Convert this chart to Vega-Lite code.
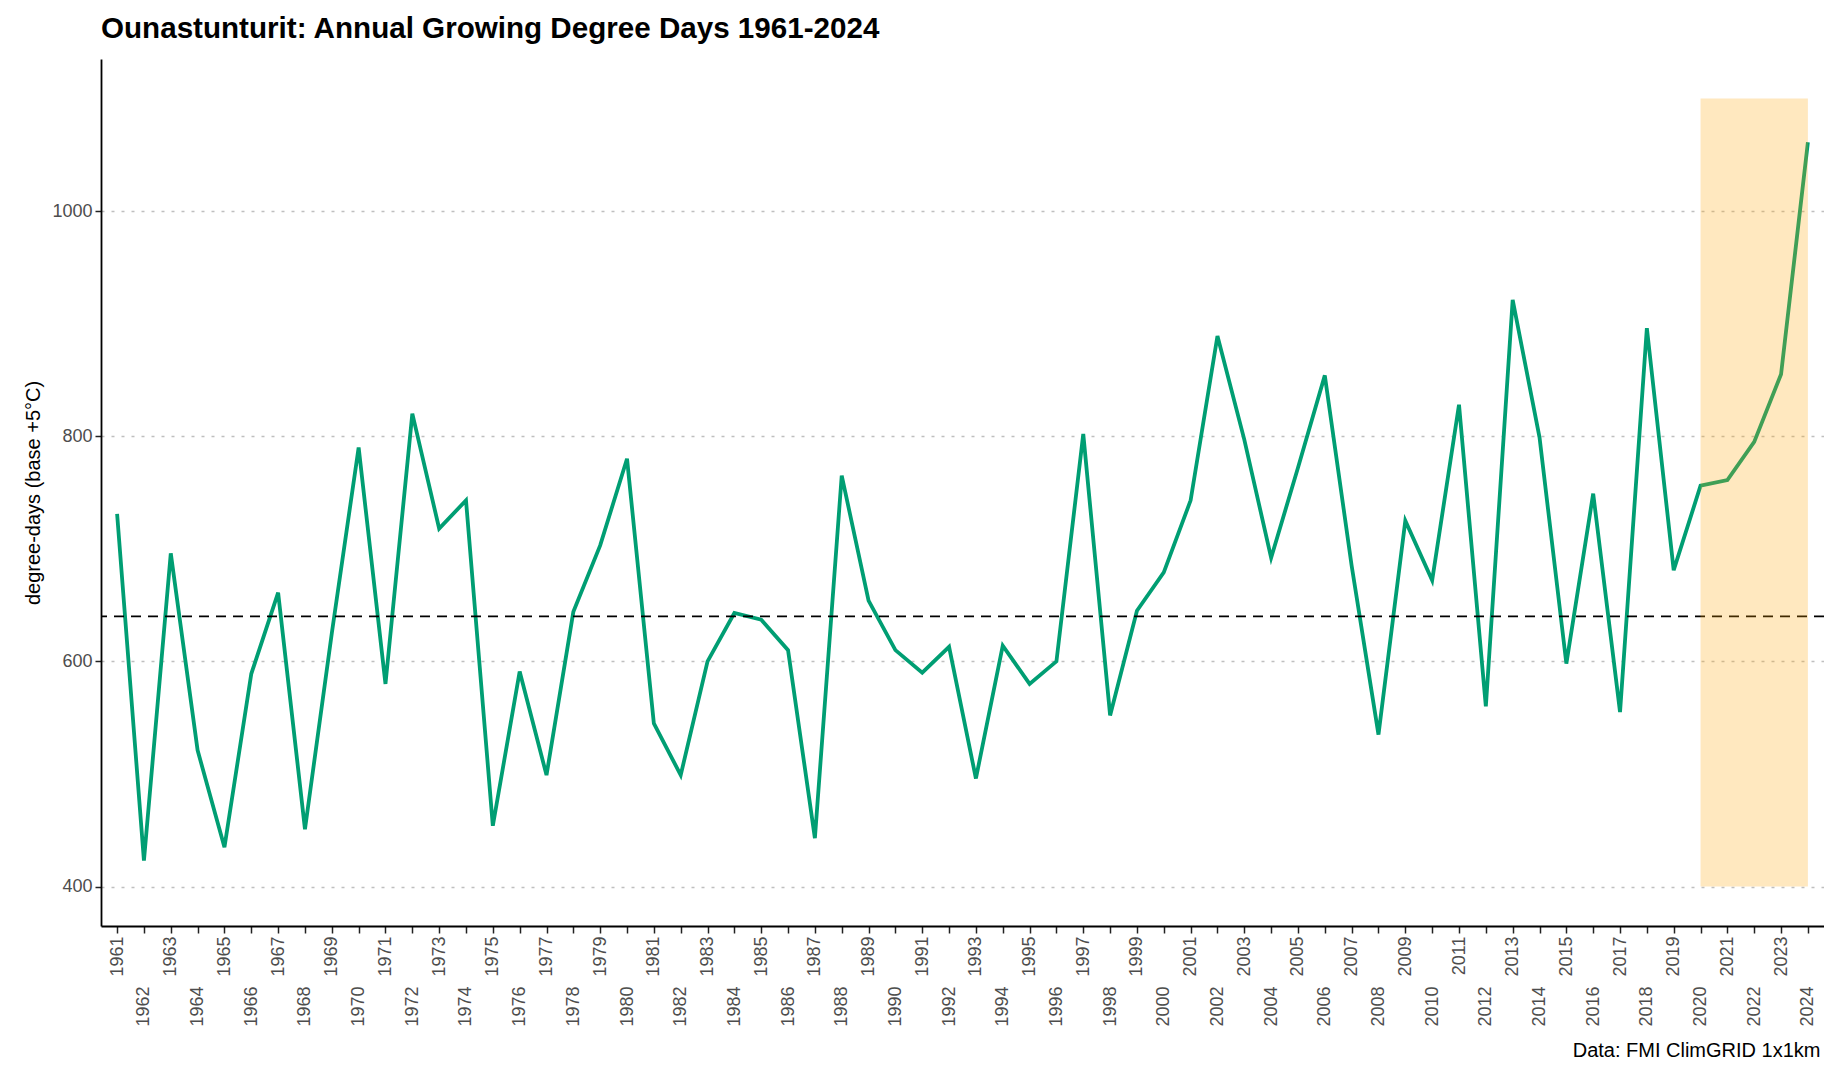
{
  "$schema": "https://vega.github.io/schema/vega-lite/v6.json",
  "width": 1723,
  "height": 867,
  "autosize": {"type": "none"},
  "padding": {"left": 101, "top": 59, "right": 0, "bottom": 141},
  "background": "white",
  "title": {"text": "Ounastunturit: Annual Growing Degree Days 1961-2024", "anchor": "start", "frame": "group", "font": "Liberation Sans", "fontSize": 29.6, "fontWeight": "bold", "color": "black", "offset": 14},
  "config": {"view": {"stroke": null}, "font": "Liberation Sans"},
  "datasets": {
    "gdd": [
      {"year": 1961, "gdd": 731}, {"year": 1962, "gdd": 423}, {"year": 1963, "gdd": 696}, {"year": 1964, "gdd": 521},
      {"year": 1965, "gdd": 435}, {"year": 1966, "gdd": 589}, {"year": 1967, "gdd": 661}, {"year": 1968, "gdd": 451},
      {"year": 1969, "gdd": 625}, {"year": 1970, "gdd": 790}, {"year": 1971, "gdd": 580}, {"year": 1972, "gdd": 820},
      {"year": 1973, "gdd": 718}, {"year": 1974, "gdd": 743}, {"year": 1975, "gdd": 454}, {"year": 1976, "gdd": 591},
      {"year": 1977, "gdd": 499}, {"year": 1978, "gdd": 644}, {"year": 1979, "gdd": 703}, {"year": 1980, "gdd": 780},
      {"year": 1981, "gdd": 545}, {"year": 1982, "gdd": 499}, {"year": 1983, "gdd": 600}, {"year": 1984, "gdd": 643},
      {"year": 1985, "gdd": 637}, {"year": 1986, "gdd": 610}, {"year": 1987, "gdd": 443}, {"year": 1988, "gdd": 765},
      {"year": 1989, "gdd": 654}, {"year": 1990, "gdd": 610}, {"year": 1991, "gdd": 590}, {"year": 1992, "gdd": 613},
      {"year": 1993, "gdd": 496}, {"year": 1994, "gdd": 614}, {"year": 1995, "gdd": 580}, {"year": 1996, "gdd": 600},
      {"year": 1997, "gdd": 802}, {"year": 1998, "gdd": 552}, {"year": 1999, "gdd": 645}, {"year": 2000, "gdd": 679},
      {"year": 2001, "gdd": 743}, {"year": 2002, "gdd": 889}, {"year": 2003, "gdd": 797}, {"year": 2004, "gdd": 692},
      {"year": 2005, "gdd": 772}, {"year": 2006, "gdd": 854}, {"year": 2007, "gdd": 685}, {"year": 2008, "gdd": 535},
      {"year": 2009, "gdd": 725}, {"year": 2010, "gdd": 672}, {"year": 2011, "gdd": 828}, {"year": 2012, "gdd": 560},
      {"year": 2013, "gdd": 921}, {"year": 2014, "gdd": 799}, {"year": 2015, "gdd": 598}, {"year": 2016, "gdd": 749},
      {"year": 2017, "gdd": 555}, {"year": 2018, "gdd": 896}, {"year": 2019, "gdd": 681}, {"year": 2020, "gdd": 756},
      {"year": 2021, "gdd": 761}, {"year": 2022, "gdd": 795}, {"year": 2023, "gdd": 855}, {"year": 2024, "gdd": 1061}
    ],
    "meanline": [{"mean": 640}],
    "band": [{"start": 2020, "end": 2024, "lo": 400, "hi": 1100}]
  },
  "layer": [
    {
      "data": {"name": "gdd"},
      "mark": {"type": "line", "color": "#009E73", "strokeWidth": 3.8},
      "encoding": {
        "x": {
          "field": "year", "type": "quantitative",
          "scale": {"domain": [1960.4, 2024.6], "nice": false, "zero": false},
          "axis": {
            "orient": "bottom",
            "values": [1961,1962,1963,1964,1965,1966,1967,1968,1969,1970,1971,1972,1973,1974,1975,1976,1977,1978,1979,1980,1981,1982,1983,1984,1985,1986,1987,1988,1989,1990,1991,1992,1993,1994,1995,1996,1997,1998,1999,2000,2001,2002,2003,2004,2005,2006,2007,2008,2009,2010,2011,2012,2013,2014,2015,2016,2017,2018,2019,2020,2021,2022,2023,2024],
            "format": "d",
            "labelExpr": "datum.value % 2 == 1 ? datum.label : ''",
            "labelAngle": 270, "labelFontSize": 18, "labelColor": "#4D4D4D", "labelPadding": 3,
            "labelOverlap": false, "labelFlush": false, "labelBound": false,
            "tickSize": 7, "tickColor": "#222222", "tickWidth": 1.5,
            "domainColor": "black", "domainWidth": 1.8,
            "grid": false, "title": null
          }
        },
        "y": {
          "field": "gdd", "type": "quantitative",
          "scale": {"domain": [365, 1135], "nice": false, "zero": false},
          "axis": {
            "values": [400, 600, 800, 1000], "format": "d",
            "title": "degree-days (base +5°C)", "titleFontSize": 20, "titleFontWeight": "normal", "titleColor": "black", "titlePadding": 8,
            "labelFontSize": 18, "labelColor": "#4D4D4D", "labelPadding": 3,
            "tickSize": 6, "tickColor": "#222222", "tickWidth": 1.5,
            "domainColor": "black", "domainWidth": 1.8,
            "grid": true, "gridColor": "#BFBFBF", "gridDash": [3, 7], "gridWidth": 1.4
          }
        }
      }
    },
    {
      "data": {"name": "meanline"},
      "mark": {"type": "rule", "color": "black", "strokeDash": [10, 7], "strokeWidth": 1.6},
      "encoding": {
        "y": {
          "field": "mean", "type": "quantitative",
          "axis": {
            "values": [400, 600, 800, 1000], "format": "d",
            "title": "degree-days (base +5°C)", "titleFontSize": 20, "titleFontWeight": "normal", "titleColor": "black", "titlePadding": 8,
            "labelFontSize": 18, "labelColor": "#4D4D4D", "labelPadding": 3,
            "tickSize": 6, "tickColor": "#222222", "tickWidth": 1.5,
            "domainColor": "black", "domainWidth": 1.8,
            "grid": true, "gridColor": "#BFBFBF", "gridDash": [3, 7], "gridWidth": 1.4
          }
        }
      }
    },
    {
      "data": {"name": "band"},
      "mark": {"type": "rect", "color": "orange", "opacity": 0.25},
      "encoding": {
        "x": {
          "field": "start", "type": "quantitative",
          "axis": {
            "orient": "bottom",
            "values": [1962,1964,1966,1968,1970,1972,1974,1976,1978,1980,1982,1984,1986,1988,1990,1992,1994,1996,1998,2000,2002,2004,2006,2008,2010,2012,2014,2016,2018,2020,2022,2024],
            "format": "d",
            "labelAngle": 270, "labelFontSize": 18, "labelColor": "#4D4D4D", "labelPadding": 60,
            "labelOverlap": false, "labelFlush": false, "labelBound": false,
            "ticks": false, "tickSize": 0, "domain": false, "grid": false,
            "title": "Data: FMI ClimGRID 1x1km", "titleFontSize": 20, "titleFontWeight": "normal", "titleColor": "black",
            "titleAnchor": "end", "titleAlign": "right", "titleX": 1719, "titleY": 130, "titleBaseline": "alphabetic"
          }
        },
        "x2": {"field": "end"},
        "y": {
          "field": "lo", "type": "quantitative",
          "axis": {
            "values": [400, 600, 800, 1000], "format": "d",
            "title": "degree-days (base +5°C)", "titleFontSize": 20, "titleFontWeight": "normal", "titleColor": "black", "titlePadding": 8,
            "labelFontSize": 18, "labelColor": "#4D4D4D", "labelPadding": 3,
            "tickSize": 6, "tickColor": "#222222", "tickWidth": 1.5,
            "domainColor": "black", "domainWidth": 1.8,
            "grid": true, "gridColor": "#BFBFBF", "gridDash": [3, 7], "gridWidth": 1.4
          }
        },
        "y2": {"field": "hi"}
      }
    }
  ],
  "resolve": {"axis": {"x": "independent"}}
}
